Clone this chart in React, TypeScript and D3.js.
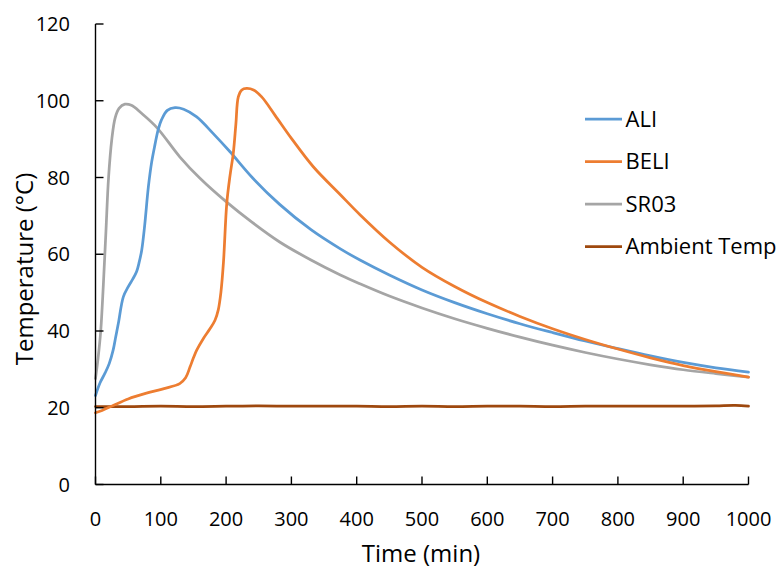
import React from "react";
import * as d3 from "d3";

// Time (min) and temperature (°C) readings for each sample
const aliTime = [0, 7, 14.5, 21, 27, 31, 35, 42.6, 50, 57, 63, 67, 70.7, 75, 81, 86, 91, 96, 101, 110, 121.7, 135, 155, 180, 206, 240, 282, 330, 375, 405, 450, 500, 550, 600, 650, 700, 750, 800, 850, 900, 950, 1000];
const aliTemp = [23.2, 26.5, 29, 31.5, 35, 38.5, 42, 48.9, 51.5, 53.5, 55.5, 58, 61, 67, 77.6, 84, 88.5, 92.5, 95, 97.5, 98.2, 97.8, 95.8, 91.5, 86.7, 80, 73, 66.4, 61.4, 58.5, 54.6, 50.7, 47.4, 44.5, 41.9, 39.6, 37.4, 35.4, 33.5, 31.8, 30.4, 29.3];

const beliTime = [0, 10, 27, 50, 78, 105, 129, 138, 144.7, 150, 155, 165, 175, 183, 188, 192, 196, 201, 206, 211, 215, 218.7, 224, 231.5, 242, 254.5, 275, 300, 333.5, 375, 405, 450, 500, 550, 600, 650, 700, 750, 800, 850, 900, 950, 1000];
const beliTemp = [18.7, 19.3, 20.6, 22.3, 23.8, 25, 26.3, 27.8, 30.6, 33, 35, 38, 40.5, 42.8, 45.5, 50, 58, 73.2, 80.5, 86.3, 94, 101, 102.8, 103.2, 102.8, 101, 96.2, 90.2, 82.8, 75.5, 70.3, 63.2, 56.6, 51.6, 47.4, 43.8, 40.6, 37.8, 35.3, 33, 31, 29.4, 28];

const sr03Time = [0, 4, 8, 12, 16, 20, 25, 30, 36, 45, 55, 70, 94, 129, 160, 200, 240, 282, 330, 375, 405, 450, 500, 550, 600, 650, 700, 750, 800, 850, 900, 950, 1000];
const sr03Temp = [27.6, 33, 40, 52, 66, 80, 90, 95.5, 98, 99.1, 98.8, 96.8, 93, 85.4, 79.8, 73.7, 68.3, 63.2, 58.5, 54.6, 52.3, 49.1, 46, 43.2, 40.7, 38.4, 36.3, 34.4, 32.7, 31.2, 29.9, 28.9, 28];

const ambientTime = [0, 50, 100, 150, 200, 250, 300, 350, 400, 450, 500, 550, 600, 650, 700, 750, 800, 850, 900, 950, 980, 1000];
const ambientTemp = [20.3, 20.3, 20.4, 20.3, 20.4, 20.5, 20.4, 20.4, 20.4, 20.3, 20.4, 20.3, 20.4, 20.4, 20.3, 20.4, 20.4, 20.4, 20.4, 20.5, 20.6, 20.4];

const seriesNames = ["ALI", "BELI", "SR03", "Ambient Temp"];
const seriesColors = ["#5B9BD5", "#ED7D31", "#A5A5A5", "#9E480E"];

const xTicks = [0, 100, 200, 300, 400, 500, 600, 700, 800, 900, 1000];
const yTicks = [0, 20, 40, 60, 80, 100, 120];

const W = 781;
const H = 570;
const FONT = "'Open Sans', 'Noto Sans', sans-serif";

export default function App() {
  const x = d3.scaleLinear().domain([0, 1000]).range([95.5, 748.5]);
  const y = d3.scaleLinear().domain([0, 120]).range([484.5, 24]);

  const series = [
    { time: aliTime, temp: aliTemp },
    { time: beliTime, temp: beliTemp },
    { time: sr03Time, temp: sr03Temp },
    { time: ambientTime, temp: ambientTemp },
  ];

  const line = d3
    .line<[number, number]>()
    .x((d) => x(d[0]))
    .y((d) => y(d[1]))
    .curve(d3.curveCatmullRom.alpha(0.5));

  // draw order: ambient first, then the three samples
  const order = [3, 2, 0, 1];

  return (
    <svg
      width={W}
      height={H}
      viewBox={`0 0 ${W} ${H}`}
      style={{ position: "absolute", left: 0, top: 0, background: "#fff" }}
      fontFamily={FONT}
    >
      <rect x={0} y={0} width={W} height={H} fill="#fff" />

      {order.map((i) => {
        const s = series[i];
        const pts = s.time.map((t, k) => [t, s.temp[k]] as [number, number]);
        return (
          <path
            key={seriesNames[i]}
            d={line(pts) ?? ""}
            fill="none"
            stroke={seriesColors[i]}
            strokeWidth={2.75}
            strokeLinejoin="round"
            strokeLinecap="round"
          />
        );
      })}

      {/* axes */}
      <line x1={x(0)} x2={x(0)} y1={y(120)} y2={y(0)} stroke="#000" strokeWidth={1.4} />
      <line x1={x(0)} x2={x(1000)} y1={y(0)} y2={y(0)} stroke="#000" strokeWidth={1.4} />

      {yTicks.map((v) => (
        <g key={`y${v}`}>
          <line x1={x(0)} x2={x(0) + 8} y1={y(v)} y2={y(v)} stroke="#000" strokeWidth={1.4} />
          <text x={70} y={y(v)} dy="0.36em" textAnchor="end" fontSize={20} fill="#000">
            {v}
          </text>
        </g>
      ))}

      {xTicks.map((v) => (
        <g key={`x${v}`}>
          <line x1={x(v)} x2={x(v)} y1={y(0)} y2={y(0) - 8} stroke="#000" strokeWidth={1.4} />
          <text x={x(v)} y={525.5} textAnchor="middle" fontSize={20} fill="#000">
            {v}
          </text>
        </g>
      ))}

      <text x={421} y={562} textAnchor="middle" fontSize={24} fill="#000">
        Time (min)
      </text>
      <text
        transform="translate(33,269) rotate(-90)"
        textAnchor="middle"
        fontSize={24}
        fill="#000"
      >
        Temperature (°C)
      </text>

      {/* legend */}
      {seriesNames.map((name, i) => {
        const ly = 119 + i * 42.5;
        return (
          <g key={`leg${name}`}>
            <line x1={585} x2={622} y1={ly} y2={ly} stroke={seriesColors[i]} strokeWidth={2.75} />
            <text x={625.5} y={ly} dy="0.36em" fontSize={22} fill="#000">
              {name}
            </text>
          </g>
        );
      })}
    </svg>
  );
}
